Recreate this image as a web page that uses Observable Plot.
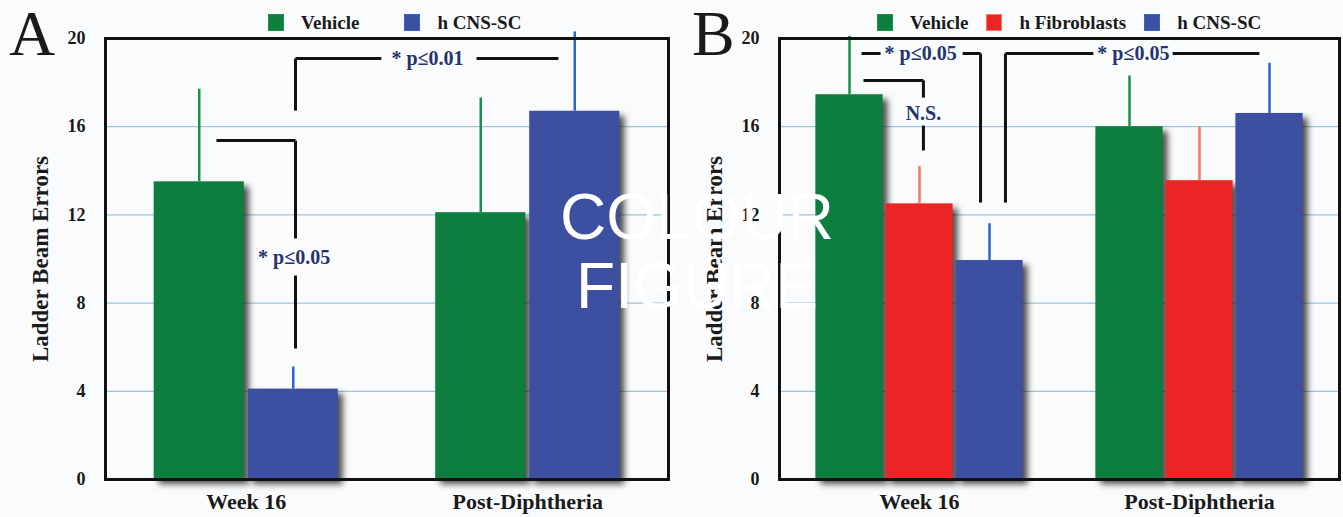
<!DOCTYPE html>
<html><head><meta charset="utf-8">
<script src="https://cdn.jsdelivr.net/npm/d3@7"></script>
<script src="https://cdn.jsdelivr.net/npm/@observablehq/plot@0.6"></script>
<style>
body{margin:0;background:#fafbfc;}
#root{position:relative;width:1343px;height:517px;overflow:hidden;font-family:"Liberation Serif","Times New Roman",serif;color:#1a1a1a;}
.panel{position:absolute;top:0;height:517px;}
.legend{height:28px;position:relative;}
.legend .items{position:absolute;top:14px;height:17px;display:flex;align-items:center;white-space:nowrap;}
.legend .sw{width:16px;height:17px;box-sizing:border-box;}
.legend .lab{font-weight:bold;font-size:19px;color:#1a1a1a;line-height:17px;}
.letter{position:absolute;top:2px;font-size:64px;line-height:64px;font-family:"Liberation Serif",serif;color:#1a1a1a;}
.wm{position:absolute;left:447px;width:500px;top:183px;text-align:center;color:#fff;font-family:"Liberation Sans",Arial,sans-serif;font-size:64px;line-height:69px;pointer-events:none;}
svg{display:block;background:transparent;}
g[aria-description="shadow"]{filter:blur(3px);}
</style></head>
<body>
<div id="root"></div>
<script>
// ---- data ----
const groups = ["Week 16", "Post-Diphtheria"];
const yTicks = [0, 4, 8, 12, 16, 20];

const seriesA = ["Vehicle", "h CNS-SC"];
const vehicleA = [13.5, 12.1];
const vehicleErrA = [4.2, 5.2];
const cnsA = [4.1, 16.7];
const cnsErrA = [1.0, 3.6];

const seriesB = ["Vehicle", "h Fibroblasts", "h CNS-SC"];
const vehicleB = [17.45, 16.0];
const vehicleErrB = [2.65, 2.3];
const fibroB = [12.5, 13.55];
const fibroErrB = [1.7, 2.45];
const cnsB = [9.93, 16.6];
const cnsErrB = [1.67, 2.28];

// significance annotations (data units: x in group units, y in errors)
const bracketsA = [
  {x1: -0.106, y1: 15.37, x2: 0.175, y2: 15.37},
  {x1: 0.175, y1: 15.37, x2: 0.175, y2: 10.93},
  {x1: 0.175, y1: 9.25, x2: 0.175, y2: 5.94},
  {x1: 0.175, y1: 16.73, x2: 0.175, y2: 19.09},
  {x1: 0.175, y1: 19.09, x2: 0.48, y2: 19.09},
  {x1: 0.818, y1: 19.09, x2: 1.109, y2: 19.09}
];
const labelsA = [
  {x: 0.17, y: 10.05, text: "* p≤0.05"},
  {x: 0.644, y: 19.09, text: "* p≤0.01"}
];
const bracketsB = [
  {x1: -0.207, y1: 19.32, x2: -0.139, y2: 19.32},
  {x1: 0.154, y1: 19.32, x2: 0.218, y2: 19.32},
  {x1: 0.218, y1: 19.32, x2: 0.218, y2: 12.56},
  {x1: -0.2, y1: 18.1, x2: 0.014, y2: 18.1},
  {x1: 0.014, y1: 18.1, x2: 0.014, y2: 17.32},
  {x1: 0.014, y1: 16.05, x2: 0.014, y2: 14.92},
  {x1: 0.307, y1: 12.56, x2: 0.307, y2: 19.32},
  {x1: 0.307, y1: 19.32, x2: 0.621, y2: 19.32},
  {x1: 0.904, y1: 19.32, x2: 1.214, y2: 19.32}
];
const labelsB = [
  {x: 0.004, y: 19.32, text: "* p≤0.05"},
  {x: 0.014, y: 16.6, text: "N.S."},
  {x: 0.764, y: 19.32, text: "* p≤0.05"}
];

// ---- styles ----
const barColor = {"Vehicle": "#0e7e3e", "h Fibroblasts": "#ec2524", "h CNS-SC": "#3d4fa1"};
const errColor = {"Vehicle": "#1b9049", "h Fibroblasts": "#f47863", "h CNS-SC": "#2f66cc"};
const FONT = "Liberation Serif, Times New Roman, serif";

function buildRows(series, values, errs, step, gap) {
  const rows = [];
  const n = series.length;
  groups.forEach((g, gi) => {
    series.forEach((s, si) => {
      const x1 = gi - (n * step) / 2 + si * step + gap / 2;
      const x2 = x1 + step - gap;
      rows.push({group: g, series: s, value: values[si][gi], err: errs[si][gi],
                 x1, x2, xc: (x1 + x2) / 2});
    });
  });
  return rows;
}

function makePanel(opts) {
  const {left, width, marginLeft, marginRight, letter, series, rows, brackets, labels, legendLeft, legendGap} = opts;
  const panel = document.createElement("div");
  panel.className = "panel";
  panel.style.left = left + "px";
  panel.style.width = width + "px";

  const legend = document.createElement("div");
  legend.className = "legend";
  const items = document.createElement("div");
  items.className = "items";
  items.style.left = legendLeft + "px";
  series.forEach((s, i) => {
    const sw = document.createElement("span");
    sw.className = "sw";
    sw.style.background = barColor[s];
    sw.style.border = "1px solid " + errColor[s];
    sw.style.marginLeft = i === 0 ? "0px" : legendGap + "px";
    sw.style.marginRight = "17px";
    const lab = document.createElement("span");
    lab.className = "lab";
    lab.textContent = s;
    items.appendChild(sw);
    items.appendChild(lab);
  });
  legend.appendChild(items);
  panel.appendChild(legend);

  const svg = Plot.plot({
    width: width,
    height: 489,
    marginTop: 10,
    marginBottom: 38,
    marginLeft: marginLeft,
    marginRight: marginRight,
    style: {background: "transparent", fontFamily: FONT, color: "#1a1a1a", overflow: "visible"},
    x: {domain: [-0.5, 1.5]},
    y: {domain: [0, 20]},
    marks: [
      Plot.gridY([4, 8, 12, 16], {stroke: "#9cc6dc", strokeOpacity: 1, strokeWidth: 1.3}),
      Plot.rect(rows, {x1: "x1", x2: "x2", y1: 0, y2: "value", fill: "#111", fillOpacity: 0.75, dx: 5, dy: 5, ariaDescription: "shadow"}),
      Plot.rect(rows, {x1: "x1", x2: "x2", y1: 0, y2: "value", fill: d => barColor[d.series]}),
      Plot.ruleX(rows, {x: "xc", y1: "value", y2: d => d.value + d.err, stroke: d => errColor[d.series], strokeWidth: 2.5}),
      Plot.frame({stroke: "#111", strokeWidth: 3}),
      Plot.link(brackets, {x1: "x1", y1: "y1", x2: "x2", y2: "y2", stroke: "#111", strokeWidth: 3}),
      Plot.text(labels, {x: "x", y: "y", text: "text", fill: "#26336f", fontWeight: "bold", fontSize: 20, fontFamily: FONT}),
      Plot.axisY(yTicks, {tickSize: 0, tickPadding: 20, fontSize: 18, fontWeight: "bold", fontFamily: FONT, label: null}),
      Plot.axisX([0, 1], {tickSize: 0, tickPadding: 14, tickFormat: i => groups[i], fontSize: 22, fontWeight: "bold", fontFamily: FONT, label: null}),
      Plot.text(["Ladder Beam Errors"], {frameAnchor: "left", rotate: -90, dx: -65, textAnchor: "middle", lineAnchor: "middle", fontSize: 23, fontWeight: "bold", fontFamily: FONT, fill: "#1a1a1a"})
    ]
  });

  panel.appendChild(svg);

  const let_ = document.createElement("div");
  let_.className = "letter";
  let_.style.left = opts.letterLeft + "px";
  let_.textContent = letter;
  panel.appendChild(let_);
  return panel;
}

const root = document.getElementById("root");
const rowsA = buildRows(seriesA, [vehicleA, cnsA], [vehicleErrA, cnsErrA], 0.334, 0.014);
const rowsB = buildRows(seriesB, [vehicleB, fibroB, cnsB], [vehicleErrB, fibroErrB, cnsErrB], 0.25, 0.01);

root.appendChild(makePanel({left: 0, width: 672, marginLeft: 105, marginRight: 4, letter: "A", letterLeft: 9,
  series: seriesA, rows: rowsA, brackets: bracketsA, labels: labelsA, legendLeft: 268, legendGap: 45}));
root.appendChild(makePanel({left: 672, width: 671, marginLeft: 107, marginRight: 4, letter: "B", letterLeft: 20,
  series: seriesB, rows: rowsB, brackets: bracketsB, labels: labelsB, legendLeft: 205, legendGap: 18}));

const wm = document.createElement("div");
wm.className = "wm";
wm.innerHTML = "COLOUR<br>FIGURE";
root.appendChild(wm);
</script>
</body></html>
